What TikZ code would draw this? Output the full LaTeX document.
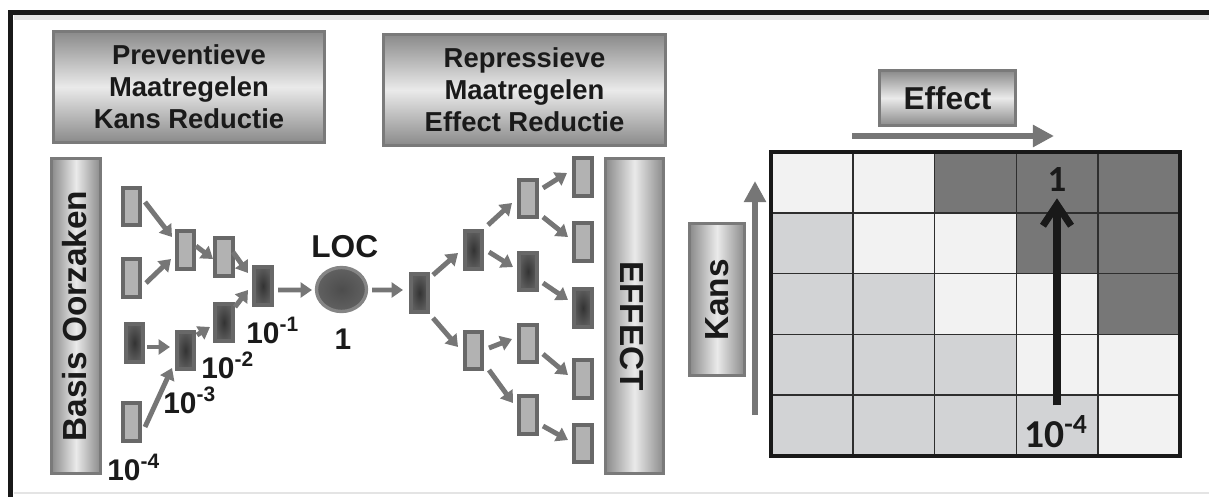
\documentclass[tikz,border=0pt]{standalone}
\usepackage{fontspec}
\setmainfont{Liberation Sans}
\newfontfamily\carl{Carlito}
\usetikzlibrary{arrows.meta,calc,shapes.geometric}
\definecolor{txt}{HTML}{1A1A1A}
\definecolor{edge}{HTML}{7A7A7A}
\definecolor{shd}{HTML}{8A8A8A}
\definecolor{hl}{HTML}{EAEAEA}
\definecolor{arrgray}{HTML}{767676}
\definecolor{rim}{HTML}{686868}
\definecolor{lfill}{HTML}{B2B2B2}
\definecolor{cellL}{HTML}{F2F2F2}
\definecolor{cellM}{HTML}{D2D3D5}
\definecolor{cellD}{HTML}{777777}
\definecolor{gline}{HTML}{2E2E2E}
\definecolor{faint}{HTML}{E4E4E4}
\begin{document}
\begin{tikzpicture}[x=0.2mm,y=-0.2mm,
  titlebox/.style={draw=edge,line width=1.7pt,top color=shd,bottom color=shd,middle color=hl,inner sep=0pt,text=txt,font=\fontsize{15.6}{18.2}\selectfont\bfseries,align=center},
  hbar/.style={draw=edge,line width=1.7pt,left color=shd,right color=shd,middle color=hl,inner sep=0pt},
  bartext/.style={text=txt,font=\fontsize{19}{22}\selectfont\bfseries,inner sep=0pt},
  lbox/.style={draw=rim,line width=2.3pt,fill=lfill,minimum width=3.5mm,minimum height=7.5mm,inner sep=0pt},
  dbox/.style={draw=rim,line width=2.3pt,inner color=black!80,outer color=black!64,minimum width=3.5mm,minimum height=7.5mm,inner sep=0pt},
  arr/.style={draw=arrgray,line width=2.8pt,-{Triangle[length=6.5pt,width=8.5pt]}},
  bigarr/.style={draw=arrgray,line width=3.6pt,-{Triangle[length=12pt,width=12pt]}},
  lbl/.style={text=txt,font=\fontsize{17}{19}\selectfont\bfseries,inner sep=0pt},
]
\useasboundingbox (0,0) rectangle (1209,497);
% frame
\draw[faint,line width=3pt] (14,17) -- (1209,17);
\draw[faint,line width=1.2pt] (14,493) -- (1209,493);
\draw[black!90,line width=2.8pt] (8,12.5) -- (1209,12.5);
\draw[black!90,line width=2.8pt] (10.5,11) -- (10.5,497);

% title boxes
\node[titlebox,minimum width=54.2mm,minimum height=22.2mm] (prev) at (189,87) {Preventieve\\Maatregelen\\Kans Reductie};
\node[titlebox,minimum width=56.4mm,minimum height=22.2mm] (repr) at (524.5,90) {Repressieve\\Maatregelen\\Effect Reductie};

% vertical bars
\node[hbar,minimum width=9.8mm,minimum height=63mm] (basis) at (76,316) {};
\node[bartext,rotate=90] (basistxt) at (75,316) {Basis Oorzaken};
\node[hbar,minimum width=11.6mm,minimum height=63mm] (effbar) at (634.5,316) {};
\node[bartext,rotate=-90] (efftxt) at (632,326) {EFFECT};

% left tree
\node[lbox] (A1) at (131.5,206.5) {};
\node[lbox] (A2) at (131.5,278) {};
\node[dbox] (A3) at (134.5,343) {};
\node[lbox] (A4) at (131.5,422) {};
\node[lbox] (B1) at (185.5,250) {};
\node[dbox] (B2) at (185.5,350.5) {};
\node[lbox] (C1) at (224,257) {};
\node[dbox] (C2) at (224,322.5) {};
\node[dbox] (D) at (263,286) {};
\node[ellipse,draw=black!48,line width=1.9pt,inner color=black!70,outer color=black!62,minimum width=10mm,minimum height=8.8mm,inner sep=0pt] (LOC) at (341.5,289.5) {};

\node[lbl,font=\fontsize{18}{20}\selectfont\bfseries,anchor=base west] (loctxt) at (311,257) {LOC};
\node[lbl] (one) at (343,339) {1};
\node[lbl,anchor=base west] (e1) at (246,343) {10\textsuperscript{-1}};
\node[lbl,anchor=base west] (e2) at (201,378) {10\textsuperscript{-2}};
\node[lbl,anchor=base west] (e3) at (163,413) {10\textsuperscript{-3}};
\node[lbl,anchor=base west] (e4) at (107,480) {10\textsuperscript{-4}};

\draw[arr] ($(A1.center)+(13.5,-4.5)$) -- ($(B1.center)+(-13.5,-13)$);
\draw[arr] ($(A2.center)+(14.5,5)$) -- ($(B1.center)+(-14.5,9)$);
\draw[arr] ($(A3.center)+(12.5,4)$) -- ($(B2.center)+(-15.5,-3.5)$);
\draw[arr] ($(A4.center)+(13.5,5)$) -- ($(B2.center)+(-13.5,17.5)$);
\draw[arr] ($(B1.center)+(10.5,-4)$) -- ($(C1.center)+(-11,2)$);
\draw[arr] ($(C1.center)+(9,-5)$) -- ($(D.center)+(-15,-13)$);
\draw[arr] ($(B2.center)+(11.5,-15.5)$) -- ($(C2.center)+(-14,4.5)$);
\draw[arr] ($(C2.center)+(11,-15.5)$) -- ($(D.center)+(-15,4)$);
\draw[arr] ($(D.center)+(15,4)$) -- ($(LOC.center)+(-29.5,0.5)$);

% right tree
\node[dbox] (E0) at (419.5,293) {};
\node[dbox] (F1) at (473.5,250) {};
\node[lbox] (F2) at (473.5,350.5) {};
\node[lbox] (G1) at (528,198.5) {};
\node[dbox] (G2) at (528,271.5) {};
\node[lbox] (G3) at (528,343.5) {};
\node[lbox] (G4) at (528,415) {};
\node[lbox] (H1) at (583,177) {};
\node[lbox] (H2) at (583,242) {};
\node[dbox] (H3) at (583,308) {};
\node[lbox] (H4) at (583,379) {};
\node[lbox] (H5) at (583,443.5) {};

\draw[arr] ($(LOC.center)+(30.5,0.5)$) -- ($(E0.center)+(-16.5,-3)$);
\draw[arr] ($(E0.center)+(13.5,-18)$) -- ($(F1.center)+(-15.5,3)$);
\draw[arr] ($(E0.center)+(13.5,25)$) -- ($(F2.center)+(-15.5,-3.5)$);
\draw[arr] ($(F1.center)+(14.5,-25)$) -- ($(G1.center)+(-16,4.5)$);
\draw[arr] ($(F1.center)+(15.5,2)$) -- ($(G2.center)+(-15,-4.5)$);
\draw[arr] ($(G1.center)+(15,-10.5)$) -- ($(H1.center)+(-16,-4)$);
\draw[arr] ($(G1.center)+(15,18.5)$) -- ($(H2.center)+(-15,-5)$);
\draw[arr] ($(G2.center)+(15,11.5)$) -- ($(H3.center)+(-15,-8)$);
\draw[arr] ($(F2.center)+(15.5,-2.5)$) -- ($(G3.center)+(-16,-4.5)$);
\draw[arr] ($(F2.center)+(15.5,19.5)$) -- ($(G4.center)+(-15,-12)$);
\draw[arr] ($(G3.center)+(15,10.5)$) -- ($(H4.center)+(-15,-4)$);
\draw[arr] ($(G4.center)+(15,11)$) -- ($(H5.center)+(-15,-3.5)$);

% risk matrix
\foreach \row [count=\r from 0] in {{cellL,cellL,cellD,cellD,cellD},{cellM,cellL,cellL,cellD,cellD},{cellM,cellM,cellL,cellL,cellD},{cellM,cellM,cellM,cellL,cellL},{cellM,cellM,cellM,cellM,cellL}}{
  \foreach \c [count=\k from 0] in \row {
    \fill[fill=\c] (771+81.8*\k,152+60.8*\r) rectangle ++(81.8,60.8);
  }
}
\foreach \k in {1,2,3,4}{
  \draw[gline,line width=1pt] (771+81.8*\k,152) -- (771+81.8*\k,456);
  \draw[gline,line width=1pt] (771,152+60.8*\k) -- (1180,152+60.8*\k);
}
\draw[black!90,line width=2.8pt] (771,152) rectangle (1180,456);

\node[text=txt,font=\carl\fontsize{21}{23}\selectfont\bfseries,inner sep=0pt] (g1) at (1057,180) {1};
\node[text=txt,font=\carl\fontsize{22.5}{24}\selectfont\bfseries,inner sep=0pt,anchor=base west] (g4) at (1024,447) {10\textsuperscript{-4}};
\draw[black!90,line width=4pt,shorten <=2mm,shorten >=1.2mm,-{Straight Barb[length=12pt,width=16pt]}] (g4.north -| g1) -- (g1.south);

% axes
\node[titlebox,font=\fontsize{18}{20}\selectfont\bfseries,minimum width=27.2mm,minimum height=11mm] (effect) at (947.5,98) {Effect};
\coordinate (el) at (852,136);
\coordinate (er) at (1054,136);
\draw[bigarr] (el) -- (er);
\node[hbar,minimum width=11mm,minimum height=30.4mm] (kans) at (717,299.5) {};
\node[bartext,rotate=90] (kanstxt) at (717,300) {Kans};
\coordinate (kb) at (755,415);
\coordinate (kt) at (755,181);
\draw[bigarr] (kb) -- (kt);
\end{tikzpicture}
\end{document}
